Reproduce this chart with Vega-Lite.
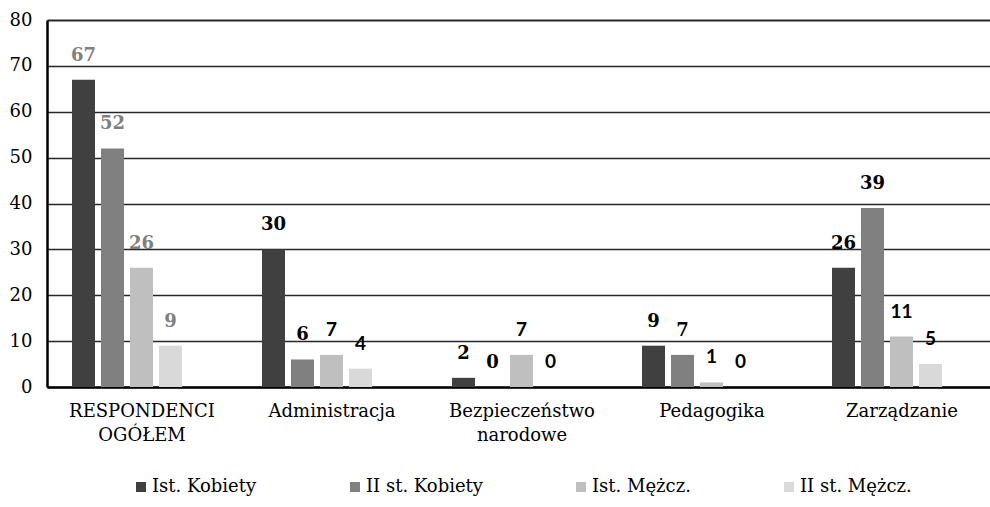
{
  "$schema": "https://vega.github.io/schema/vega-lite/v6.json",
  "autosize": "none",
  "width": 943,
  "height": 367,
  "padding": {"left": 47, "top": 20, "right": 0, "bottom": 120},
  "background": "white",
  "config": {"view": {"stroke": null}, "font": "DejaVu Serif"},
  "data": {
    "values": [
      {"cat": "RESPONDENCI OGÓŁEM", "series": "Ist. Kobiety", "value": 67},
      {"cat": "RESPONDENCI OGÓŁEM", "series": "II st. Kobiety", "value": 52},
      {"cat": "RESPONDENCI OGÓŁEM", "series": "Ist. Mężcz.", "value": 26},
      {"cat": "RESPONDENCI OGÓŁEM", "series": "II st. Mężcz.", "value": 9},
      {"cat": "Administracja", "series": "Ist. Kobiety", "value": 30},
      {"cat": "Administracja", "series": "II st. Kobiety", "value": 6},
      {"cat": "Administracja", "series": "Ist. Mężcz.", "value": 7},
      {"cat": "Administracja", "series": "II st. Mężcz.", "value": 4},
      {"cat": "Bezpieczeństwo narodowe", "series": "Ist. Kobiety", "value": 2},
      {"cat": "Bezpieczeństwo narodowe", "series": "II st. Kobiety", "value": 0},
      {"cat": "Bezpieczeństwo narodowe", "series": "Ist. Mężcz.", "value": 7},
      {"cat": "Bezpieczeństwo narodowe", "series": "II st. Mężcz.", "value": 0},
      {"cat": "Pedagogika", "series": "Ist. Kobiety", "value": 9},
      {"cat": "Pedagogika", "series": "II st. Kobiety", "value": 7},
      {"cat": "Pedagogika", "series": "Ist. Mężcz.", "value": 1},
      {"cat": "Pedagogika", "series": "II st. Mężcz.", "value": 0},
      {"cat": "Zarządzanie", "series": "Ist. Kobiety", "value": 26},
      {"cat": "Zarządzanie", "series": "II st. Kobiety", "value": 39},
      {"cat": "Zarządzanie", "series": "Ist. Mężcz.", "value": 11},
      {"cat": "Zarządzanie", "series": "II st. Mężcz.", "value": 5}
    ]
  },
  "encoding": {
    "x": {
      "field": "cat",
      "type": "nominal",
      "sort": ["RESPONDENCI OGÓŁEM", "Administracja", "Bezpieczeństwo narodowe", "Pedagogika", "Zarządzanie"],
      "scale": {"range": [0, 950], "paddingInner": 0, "paddingOuter": 0},
      "title": null,
      "axis": {
        "labelAngle": 0,
        "ticks": false,
        "domainColor": "black",
        "domainWidth": 2.5,
        "labelFont": "DejaVu Serif",
        "labelFontSize": 18,
        "labelColor": "black",
        "labelPadding": 15,
        "labelLineHeight": 24,
        "labelExpr": "split(datum.label, ' ')",
        "labelLimit": 300
      }
    },
    "xOffset": {
      "field": "series",
      "type": "nominal",
      "sort": ["Ist. Kobiety", "II st. Kobiety", "Ist. Mężcz.", "II st. Mężcz."],
      "scale": {"range": [25, 135], "paddingInner": 0.207, "paddingOuter": 0}
    },
    "y": {
      "field": "value",
      "type": "quantitative",
      "scale": {"domain": [0, 80], "nice": false},
      "title": null,
      "axis": {
        "values": [0, 10, 20, 30, 40, 50, 60, 70, 80],
        "grid": true,
        "gridColor": "#262626",
        "gridWidth": {"condition": {"test": "datum.value === 80", "value": 2.2}, "value": 1.4},
        "domain": true,
        "domainColor": "black",
        "domainWidth": 2.5,
        "ticks": false,
        "labelFont": "DejaVu Serif",
        "labelFontSize": 18,
        "labelColor": "black",
        "labelPadding": 15
      }
    }
  },
  "layer": [
    {
      "mark": {"type": "bar"},
      "encoding": {
        "color": {
          "field": "series",
          "type": "nominal",
          "sort": ["Ist. Kobiety", "II st. Kobiety", "Ist. Mężcz.", "II st. Mężcz."],
          "scale": {
            "domain": ["Ist. Kobiety", "II st. Kobiety", "Ist. Mężcz.", "II st. Mężcz."],
            "range": ["#404040", "#808080", "#bfbfbf", "#d9d9d9"]
          },
          "legend": {
            "orient": "none",
            "legendX": 85,
            "legendY": 458,
            "direction": "horizontal",
            "title": null,
            "padding": 0,
            "symbolType": "square",
            "symbolSize": 100,
            "symbolStrokeWidth": 0,
            "labelFont": "DejaVu Serif",
            "labelFontSize": 18,
            "labelColor": "black",
            "labelOffset": 2,
            "columnPadding": 89,
            "labelLimit": 300
          }
        }
      }
    },
    {
      "transform": [{"filter": "datum.cat === 'RESPONDENCI OGÓŁEM' || datum.series === 'Ist. Kobiety' || datum.series === 'II st. Kobiety'"}],
      "mark": {"type": "text", "baseline": "alphabetic", "dy": -19, "font": "DejaVu Serif", "fontSize": 18, "fontWeight": "bold"},
      "encoding": {
        "text": {"field": "value", "type": "quantitative"},
        "color": {"condition": {"test": "datum.cat === 'RESPONDENCI OGÓŁEM'", "value": "#808080"}, "value": "black"}
      }
    },
    {
      "transform": [{"filter": "datum.cat !== 'RESPONDENCI OGÓŁEM' && (datum.series === 'Ist. Mężcz.' || datum.series === 'II st. Mężcz.')"}],
      "mark": {"type": "text", "baseline": "alphabetic", "dy": -19, "font": "Lato", "fontSize": 19, "fontWeight": "bold", "color": "black"},
      "encoding": {
        "text": {"field": "value", "type": "quantitative"}
      }
    }
  ]
}
